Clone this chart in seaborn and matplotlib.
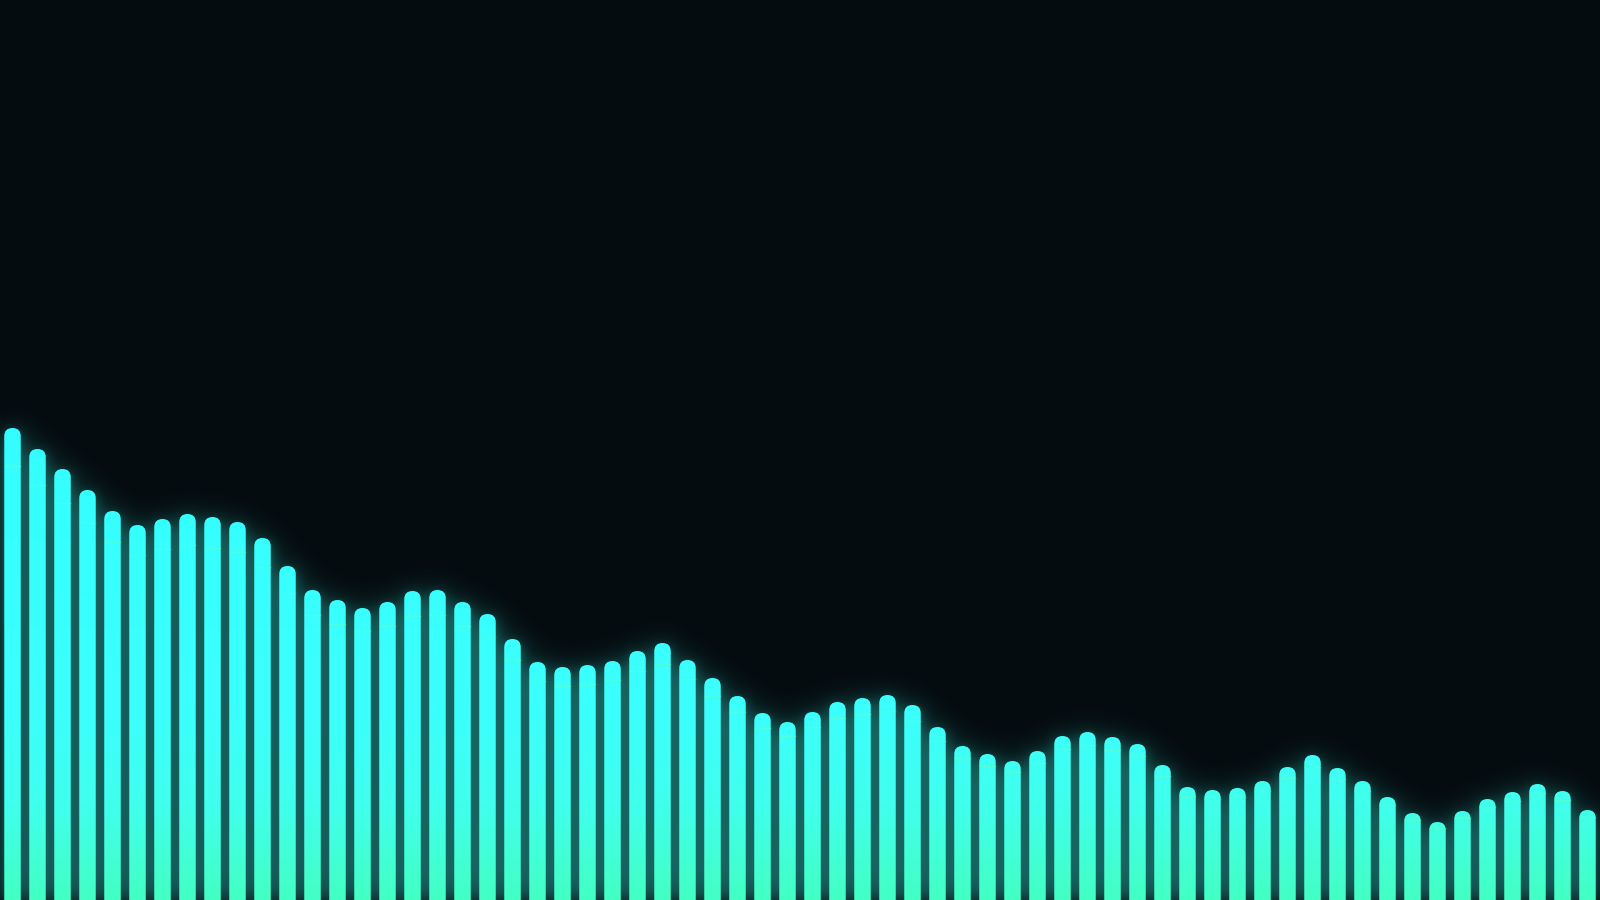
import numpy as np
import pandas as pd
import matplotlib
matplotlib.use('Agg')
import matplotlib.pyplot as plt
import seaborn as sns
from matplotlib.patches import FancyBboxPatch, PathPatch
from matplotlib.path import Path
from matplotlib.colors import LinearSegmentedColormap, to_rgb

BG = '#050c10'
GLOW = '#30e6d8'
SEAM = '#7dffa0'

# one level per frequency band (0..900 scale)
BANDS = list(range(64))
LEVELS = [
    472, 451, 431, 410, 389, 375, 381, 386, 383, 378, 362, 334,
    310, 300, 292, 298, 309, 310, 298, 286,
    261, 238, 233, 235, 239, 249, 257, 240, 222, 204,
    187, 178, 188, 198, 202, 205, 195, 173, 154, 146,
    139, 149, 164, 168, 163, 156, 135, 113, 110, 112, 119, 133,
    145, 132, 119, 103, 87, 78, 89, 101, 108, 116, 109, 90,
]

BAR_W = 0.66
YMAX = 900

df = pd.DataFrame({'band': BANDS, 'level': LEVELS})

sns.set_style('dark', {'axes.facecolor': BG, 'figure.facecolor': BG})

fig = plt.figure(figsize=(16, 9), dpi=100, facecolor=BG)
ax = fig.add_axes([0, 0, 1, 1])
ax.set_facecolor(BG)

sns.barplot(data=df, x='band', y='level', width=BAR_W, color='#3cffff',
            ax=ax, errorbar=None, native_scale=True)
ax.set_xlim(-0.5, len(BANDS) - 0.5)
ax.set_ylim(0, YMAX)
ax.set_axis_off()

# px per x unit vs px per y unit -> keep the caps round
aspect = (1600 / len(BANDS)) / (900 / YMAX)

# swap the plain bars for rounded ones
paths = []
geo = []
for p in list(ax.patches):
    x, w, h = p.get_x(), p.get_width(), p.get_height()
    p.remove()
    fb = FancyBboxPatch((x, -20), w, h + 20,
                        boxstyle='round,pad=0,rounding_size=%f' % (w / 2),
                        mutation_aspect=aspect)
    paths.append(fb.get_path())
    geo.append((x, w, h))

# soft glow: blurred bar mask (a tight one plus a wide one)
nx, ny = 1600, 900
pad = 60
xs = np.linspace(-0.5, len(BANDS) - 0.5, nx)
ys = np.linspace(0, YMAX, ny)
mask = np.zeros((ny + 2 * pad, nx + 2 * pad))
for x, w, h in geo:
    cols = (xs >= x) & (xs <= x + w)
    rows = ys <= h - 4
    sub = np.outer(rows, cols).astype(float)
    mask[pad:pad + ny, pad:pad + nx] = np.maximum(mask[pad:pad + ny, pad:pad + nx], sub)


def blur(img, sigma):
    k = np.arange(-int(3 * sigma), int(3 * sigma) + 1)
    kern = np.exp(-0.5 * (k / sigma) ** 2)
    kern /= kern.sum()
    out = np.apply_along_axis(lambda r: np.convolve(r, kern, mode='same'), 1, img)
    out = np.apply_along_axis(lambda c: np.convolve(c, kern, mode='same'), 0, out)
    return out[pad:pad + ny, pad:pad + nx]


glow = 0.45 * blur(mask, 7) + 0.45 * blur(mask, 16)
rgba = np.zeros((ny, nx, 4))
rgba[..., :3] = to_rgb(GLOW)
rgba[..., 3] = np.clip(glow * 0.72, 0, 1)
ax.imshow(rgba, extent=(-0.5, len(BANDS) - 0.5, 0, YMAX), origin='lower',
          aspect='auto', interpolation='bilinear', zorder=1)

# vertical gradient clipped to the bar shapes
grad_cmap = LinearSegmentedColormap.from_list('eq', [
    (0.0, '#42ffc4'),
    (0.04, '#42ffd4'),
    (0.10, '#40ffec'),
    (0.20, '#3cfffc'),
    (0.4, '#36ffff'),
    (1.0, '#30f8ff'),
])
grad = np.linspace(0, 1, 512).reshape(-1, 1)
im = ax.imshow(grad, extent=(-0.5, len(BANDS) - 0.5, 0, YMAX), origin='lower',
               aspect='auto', cmap=grad_cmap, zorder=2, interpolation='bilinear')
clip = PathPatch(Path.make_compound_path(*paths), transform=ax.transData,
                 facecolor='none', edgecolor='none')
ax.add_patch(clip)
im.set_clip_path(clip)

# faint seam line near the top of each bar
ax.hlines([h * 0.92 for _, _, h in geo],
          [x for x, _, _ in geo], [x + w for x, w, _ in geo],
          color=SEAM, lw=1, alpha=0.3, zorder=3)

fig.savefig('out.png', dpi=100, facecolor=BG)
